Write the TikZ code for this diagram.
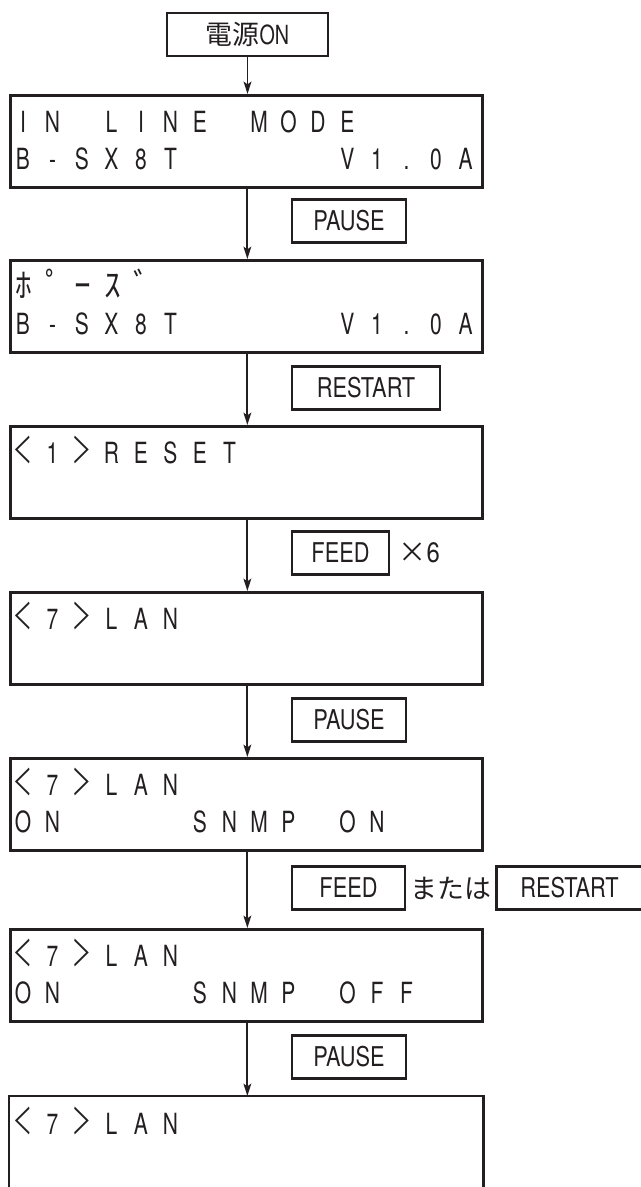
\documentclass[tikz,border=0pt]{standalone}
\usepackage{fontspec}
\usepackage{graphicx}
\setmainfont{TeX Gyre Heros}
\newfontfamily\jpfont{Noto Sans CJK JP}
\usetikzlibrary{positioning,arrows.meta}
\definecolor{ink}{HTML}{231F20}
\newcommand\narrow[2]{\scalebox{#1}[1]{#2}}
% thin angle brackets of the display
\newcommand\lcdlt{\scalebox{0.72}[1]{\jpfont\fontsize{20.5}{22}\selectfont ＜}}
\newcommand\lcdgt{\scalebox{0.72}[1]{\jpfont\fontsize{20.5}{22}\selectfont ＞}}
% one row of the display: name, baseline, characters (one per cell)
\newcommand\lcdrow[3]{%
  \foreach \ch [count=\i from 0] in {#3}
    \node[lcdChar] (#1-\i) at ({23+29.5*\i},#2) {\narrow{0.72}{\ch}};}

\begin{document}
\begin{tikzpicture}[x=0.02cm, y=-0.02cm, ink,
  lcdBox/.style={draw, line width=1.6pt, minimum width=9.44cm,
                 minimum height=1.84cm, inner sep=0pt, anchor=north west},
  lcdChar/.style={anchor=base, inner sep=0pt,
                  font=\fontsize{16.6}{18}\selectfont},
  kanaChar/.style={anchor=base, inner sep=0pt,
                   font=\jpfont\fontsize{19}{22}\selectfont},
  keyBox/.style={draw, line width=1.2pt, minimum height=0.86cm,
                 inner sep=0pt, anchor=west, font=\fontsize{15.5}{18}\selectfont},
  flowArrow/.style={-{Stealth[length=7pt,width=4.4pt,inset=1.5pt]},
                    line width=1.1pt}
]
  \useasboundingbox (0,0) rectangle (641,1187);

  % === Power on ===
  \node[keyBox, anchor=center, minimum width=3.22cm] (pwr) at (247.5,34.5)
    {{\jpfont\fontsize{15.3}{18}\selectfont 電源}\narrow{0.75}{\fontsize{15}{18}\selectfont ON}};

  % === Displays ===
  \node[lcdBox] (lcd1) at (9,94) {};
  \lcdrow{t1}{132}{I,N,,L,I,N,E,,M,O,D,E}
  \lcdrow{v1}{169}{B,-,S,X,8,T,,,,,,V,1,.,0,A}

  \node[lcdBox] (lcd2) at (9,259) {};
  \foreach \ch [count=\i from 0] in {ﾎ,ﾟ,ｰ,ｽ,ﾞ}
    \node[kanaChar] (t2-\i) at ({24+29.5*\i},297) {\ch};
  \lcdrow{v2}{334}{B,-,S,X,8,T,,,,,,V,1,.,0,A}

  \node[lcdBox] (lcd3) at (9,425) {};
  \lcdrow{t3}{463}{\lcdlt,1,\lcdgt,R,E,S,E,T}

  \node[lcdBox] (lcd4) at (9,591) {};
  \lcdrow{t4}{629}{\lcdlt,7,\lcdgt,L,A,N}

  \node[lcdBox] (lcd5) at (9,757) {};
  \lcdrow{t5}{795}{\lcdlt,7,\lcdgt,L,A,N}
  \lcdrow{s5}{832}{O,N,,,,,S,N,M,P,,O,N}

  \node[lcdBox] (lcd6) at (9,928) {};
  \lcdrow{t6}{966}{\lcdlt,7,\lcdgt,L,A,N}
  \lcdrow{s6}{1003}{O,N,,,,,S,N,M,P,,O,F,F}

  % last display runs off the page
  \node[lcdBox, draw=none] (lcd7) at (9,1096) {};
  \draw[line width=1.6pt] (lcd7.south west) -- (lcd7.north west)
    -- (lcd7.north east) -- (lcd7.south east);
  \lcdrow{t7}{1134}{\lcdlt,7,\lcdgt,L,A,N}

  % === Arrows ===
  \draw[flowArrow] (pwr.south) -- (pwr.south |- lcd1.north);
  \foreach \a/\b in {lcd1/lcd2, lcd2/lcd3, lcd3/lcd4, lcd4/lcd5, lcd5/lcd6, lcd6/lcd7}
    \draw[flowArrow] ([xshift=0.02cm]\a.south) -- ([xshift=0.02cm]\b.north);

  % === Keys ===
  \node[keyBox, minimum width=2.28cm] (k1) at (291,221) {\narrow{0.8}{PAUSE}};
  \node[keyBox, minimum width=2.96cm] (k2) at (291,388) {\narrow{0.8}{RESTART}};
  \node[keyBox, minimum width=1.94cm] (k3) at (291,553) {\narrow{0.8}{FEED}};
  \node[right=0.16cm of k3, inner sep=0pt, font=\fontsize{16}{18}\selectfont]
    (k3n) {{\jpfont ×}\narrow{0.85}{6}};
  \node[keyBox, minimum width=2.28cm] (k4) at (291,720) {\narrow{0.8}{PAUSE}};
  \node[keyBox, minimum width=2.26cm] (k5) at (291,888) {\narrow{0.8}{FEED}};
  \node[right=0.08cm of k5, inner sep=0pt, font=\jpfont\fontsize{15.3}{18}\selectfont]
    (k5or) {または};
  \node[keyBox, minimum width=2.92cm, right=0.08cm of k5or] (k5b)
    {\narrow{0.8}{RESTART}};
  \node[keyBox, minimum width=2.28cm] (k6) at (291,1057) {\narrow{0.8}{PAUSE}};
\end{tikzpicture}
\end{document}
